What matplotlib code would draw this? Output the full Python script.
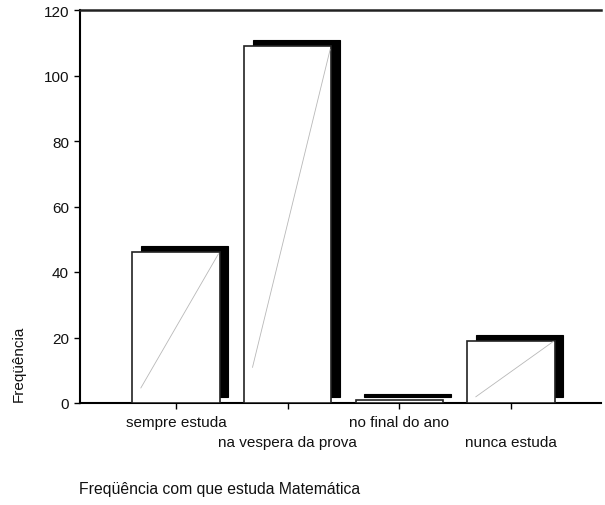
import matplotlib
matplotlib.use("Agg")
import matplotlib.pyplot as plt
import matplotlib.transforms as mtransforms
import numpy as np

plt.rcParams['font.family'] = ['Liberation Sans', 'DejaVu Sans']

categories = ['sempre estuda', 'na vespera da prova', 'no final do ano', 'nunca estuda']
counts = [46, 109, 1, 19]
y_ticks = [0, 20, 40, 60, 80, 100, 120]

fig = plt.figure(figsize=(6.05, 5.06), dpi=100)
ax = fig.add_axes([80 / 605, 102 / 506, 521 / 605, 393 / 506])

x = np.arange(len(categories))
width = 0.78

# shadow, shifted right and up by a few pixels
shadow_tr = ax.transData + mtransforms.ScaledTranslation(8.5 / 100, 6 / 100, fig.dpi_scale_trans)
ax.bar(x, counts, width=width, color='black', edgecolor='black', linewidth=0.8,
       transform=shadow_tr, zorder=2)
ax.bar(x, counts, width=width, color='white', edgecolor='#222222', linewidth=1.2, zorder=3)

# thin grey diagonal inside each bar
for xi, c in zip(x, counts):
    if c < 5:
        continue
    x0 = xi - width / 2 + 0.075
    x1 = xi + width / 2 - 0.01
    ax.plot([x0, x1], [0.1 * c, c * 0.99], color='#b8b8b8', lw=0.6, zorder=4)

ax.set_xlim(-0.86, 3.806)
ax.set_ylim(0, 120)
ax.set_yticks(y_ticks)
ax.set_xticks(x)
ax.set_xticklabels(categories)

for sp in ['left', 'bottom']:
    ax.spines[sp].set_linewidth(1.5)
ax.spines['top'].set_linewidth(1.8)
ax.spines['top'].set_color('#222222')
ax.spines['right'].set_visible(False)

ax.tick_params(axis='both', direction='out', length=4, width=1, labelsize=11,
               colors='black', labelcolor='#111111')
ax.tick_params(axis='y', pad=4)
for i, t in enumerate(ax.xaxis.get_major_ticks()):
    t.set_pad(5 if i % 2 == 0 else 19)

fig.text(19 / 605, 1 - 402 / 506, 'Freqüência', rotation=90, ha='center', va='bottom',
         fontsize=11, color='#111111')
fig.text(79 / 605, 1 - 482 / 506, 'Freqüência com que estuda Matemática', ha='left', va='top',
         fontsize=11.3, color='#111111')

fig.savefig('out.png', dpi=100)
